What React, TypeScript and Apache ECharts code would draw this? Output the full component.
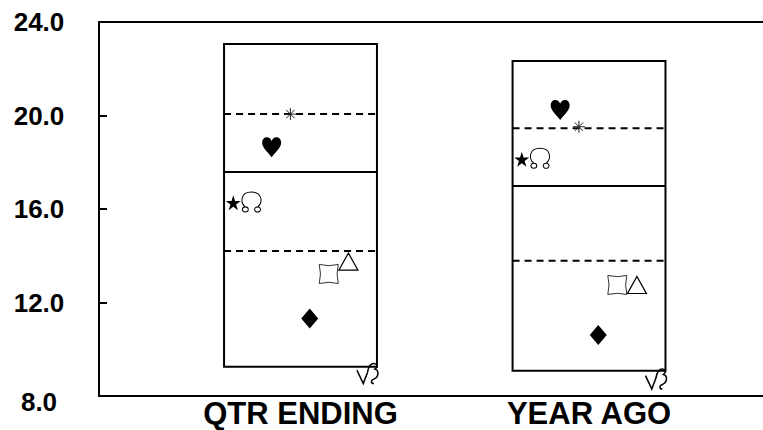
import React, { useEffect, useRef } from "react";
import * as echarts from "echarts";

// ---- data ----
const categories = ["QTR ENDING", "YEAR AGO"];
const yTicks = [8, 12, 16, 20, 24];

// box outline values
const boxHigh = [23.06, 22.33];
const boxQ3 = [20.06, 19.45];
const boxMedian = [17.58, 16.98];
const boxQ1 = [14.2, 13.79];
const boxLow = [9.25, 9.08];

// marker values
const starValues = [16.27, 18.13];
const omegaValues = [16.3, 18.17];
const heartValues = [18.64, 20.24];
const asteriskValues = [20.06, 19.52];
const diamondValues = [11.32, 10.61];
const squareValues = [13.22, 12.75];
const triangleValues = [13.75, 12.75];
const glyphValues = [8.96, 8.73];

// ---- shapes ----
const STAR =
  "path://M10,0 L12.25,6.91 L19.51,6.91 L13.63,11.18 L15.88,18.09 L10,13.82 L4.12,18.09 L6.37,11.18 L0.49,6.91 L7.75,6.91 Z";
const HEART =
  "path://M10,20 C5,14 0,10 0,5.5 C0,2 2.2,0 5,0 C7.5,0 9,1.6 10,3.6 C11,1.6 12.5,0 15,0 C17.8,0 20,2 20,5.5 C20,10 15,14 10,20 Z";
const ASTERISK =
  "path://M6,0 L6,12 M0,6 L12,6 M1.8,1.8 L10.2,10.2 M10.2,1.8 L1.8,10.2";
const OMEGA =
  "path://M5,15 C0.5,11 1,1 10,1 C19,1 19.5,11 15,15 M2.6,17.4 A2.4,2.4 0 1 0 7.4,17.4 A2.4,2.4 0 1 0 2.6,17.4 M12.6,17.4 A2.4,2.4 0 1 0 17.4,17.4 A2.4,2.4 0 1 0 12.6,17.4";
const CONCAVE_SQUARE =
  "path://M0,0 Q10,2.5 20,0 Q17.5,10 20,20 Q10,17.5 0,20 Q2.5,10 0,0 Z";
const GLYPH =
  "path://M0,7 L6,19 L10,9 M10,9 C11,3 13,1 16,1 C19,1 20,4 17,6 C21,7 21,13 16,15 C13,16 13,19 16,19";

const BOX_WIDTH = 0.53;
const FONT = "'Liberation Sans', Arial, Helvetica, sans-serif";

const markerDefs = [
  { name: "star", values: starValues, offset: -0.233, symbol: STAR, size: [15, 15], fill: "#000", stroke: "#000", lw: 0 },
  { name: "omega", values: omegaValues, offset: -0.17, symbol: OMEGA, size: [19, 20], fill: "transparent", stroke: "#000", lw: 1 },
  { name: "heart", values: heartValues, offset: -0.1, symbol: HEART, size: [19, 20], fill: "#000", stroke: "#000", lw: 0 },
  { name: "asterisk", values: asteriskValues, offset: -0.035, symbol: ASTERISK, size: [12, 12], fill: "transparent", stroke: "#222", lw: 1 },
  { name: "diamond", values: diamondValues, offset: 0.032, symbol: "diamond", size: [17, 20], fill: "#000", stroke: "#000", lw: 0 },
  { name: "square", values: squareValues, offset: 0.098, symbol: CONCAVE_SQUARE, size: [19, 19], fill: "transparent", stroke: "#333", lw: 1 },
  { name: "triangle", values: triangleValues, offset: 0.166, symbol: "triangle", size: [19, 17], fill: "transparent", stroke: "#000", lw: 1.2 },
  { name: "glyph", values: glyphValues, offset: 0.232, symbol: GLYPH, size: [21, 20], fill: "transparent", stroke: "#000", lw: 1.5 },
];

export default function App() {
  const ref = useRef<HTMLDivElement>(null);

  useEffect(() => {
    document.body.style.margin = "0";
    if (!ref.current) return;
    const chart = echarts.init(ref.current, undefined, { renderer: "svg" });

    const boxData = categories.map((_, i) => [
      i + 1,
      boxLow[i],
      boxQ1[i],
      boxMedian[i],
      boxQ3[i],
      boxHigh[i],
    ]);

    const labelStyle = {
      fontFamily: FONT,
      fontWeight: "bold",
      color: "#000",
    };

    const option: any = {
      animation: false,
      backgroundColor: "#fff",
      grid: {
        left: 99,
        top: 22,
        bottom: 34,
        right: 0,
        show: false,
      },
      xAxis: [
        {
          type: "value",
          position: "bottom",
          min: 0.3016,
          max: 2.603,
          axisLine: { show: true, onZero: false, lineStyle: { color: "#000", width: 2 } },
          axisTick: { show: false },
          splitLine: { show: false },
          axisLabel: {
            ...labelStyle,
            customValues: [1, 2],
            formatter: (v: number) => categories[Math.round(v) - 1] ?? "",
            fontSize: 31,
            lineHeight: 31,
            margin: 2,
          },
        },
        {
          type: "value",
          position: "top",
          min: 0.3016,
          max: 2.603,
          axisLine: { show: true, onZero: false, lineStyle: { color: "#000", width: 2 } },
          axisTick: { show: false },
          splitLine: { show: false },
          axisLabel: { show: false },
        },
      ],
      yAxis: {
        type: "value",
        min: 8,
        max: 24,
        interval: 4,
        axisLine: { show: true, onZero: false, lineStyle: { color: "#000", width: 2 } },
        axisTick: { show: true, inside: true, length: 8, lineStyle: { color: "#000", width: 2 } },
        splitLine: { show: false },
        axisLabel: {
          ...labelStyle,
          customValues: yTicks,
          formatter: (v: number) => (v === 8 ? "{low|" + v.toFixed(1) + "}" : v.toFixed(1)),
          fontSize: 26,
          align: "center",
          margin: 60,
          rich: {
            low: {
              ...labelStyle,
              fontSize: 26,
              padding: [12, 0, 0, 0],
            },
          },
        },
      },
      series: [
        {
          type: "custom",
          z: 2,
          data: boxData,
          encode: { x: 0, y: [1, 2, 3, 4, 5] },
          renderItem: (params: any, api: any) => {
            const x = api.value(0);
            const pLow = api.coord([x, api.value(1)]);
            const pQ1 = api.coord([x, api.value(2)]);
            const pMed = api.coord([x, api.value(3)]);
            const pQ3 = api.coord([x, api.value(4)]);
            const pHigh = api.coord([x, api.value(5)]);
            const half = api.size([BOX_WIDTH, 0])[0] / 2;
            const hl = (p: number[], dashed: boolean) => ({
              type: "line",
              shape: { x1: p[0] - half, y1: p[1], x2: p[0] + half, y2: p[1] },
              style: {
                stroke: "#000",
                lineWidth: 2,
                lineDash: dashed ? [7, 5] : null,
              },
            });
            return {
              type: "group",
              children: [
                {
                  type: "rect",
                  shape: {
                    x: pHigh[0] - half,
                    y: pHigh[1],
                    width: half * 2,
                    height: pLow[1] - pHigh[1],
                  },
                  style: { fill: "none", stroke: "#000", lineWidth: 2 },
                },
                hl(pQ3, true),
                hl(pMed, false),
                hl(pQ1, true),
              ],
            };
          },
        },
        ...markerDefs.map((m) => ({
          type: "scatter",
          name: m.name,
          z: 5,
          symbol: m.symbol,
          symbolSize: m.size,
          data: m.values.map((v, i) => [i + 1 + m.offset, v]),
          itemStyle: {
            color: m.fill,
            borderColor: m.stroke,
            borderWidth: m.lw,
            opacity: 1,
          },
          emphasis: { disabled: true },
        })),
      ],
    };

    chart.setOption(option);
    return () => chart.dispose();
  }, []);

  return <div ref={ref} style={{ width: 763, height: 430 }} />;
}
